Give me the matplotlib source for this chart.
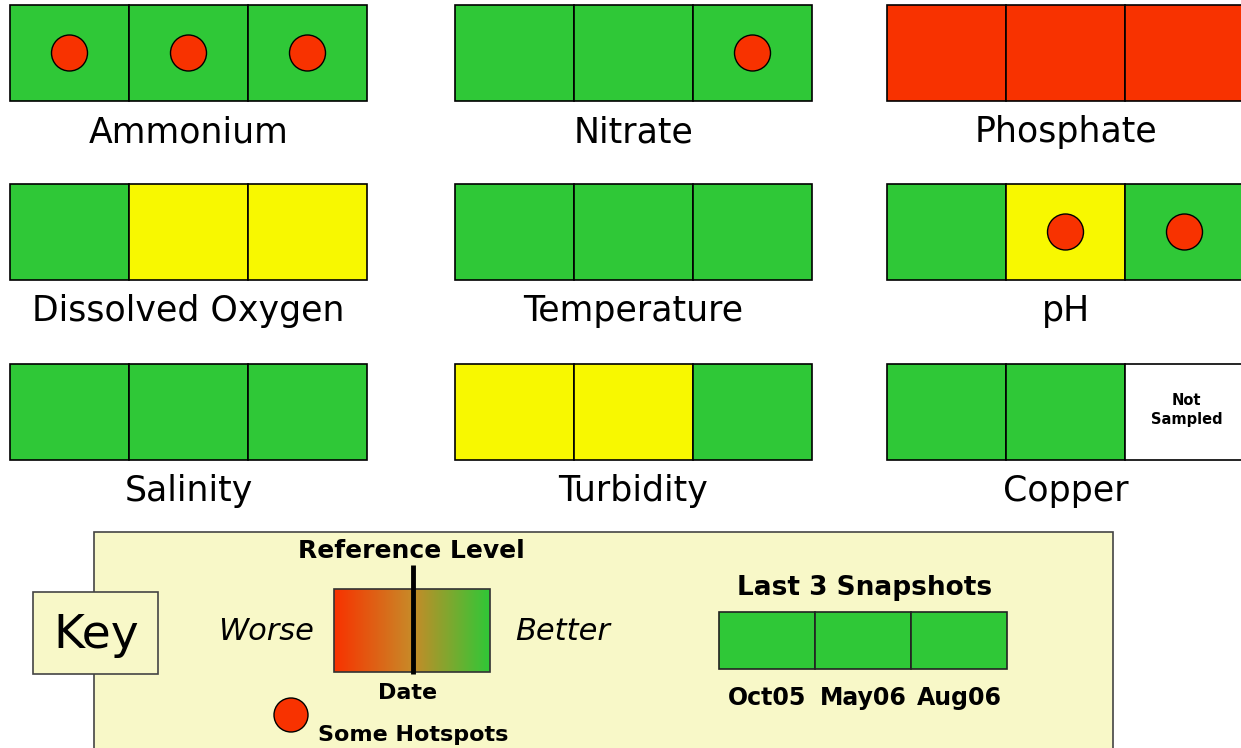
import matplotlib
matplotlib.use("Agg")
import matplotlib.pyplot as plt
from matplotlib.patches import Rectangle, Circle
from matplotlib.colors import LinearSegmentedColormap
import numpy as np

# ---------------- data ----------------
parameters = ["Ammonium", "Nitrate", "Phosphate",
              "Dissolved Oxygen", "Temperature", "pH",
              "Salinity", "Turbidity", "Copper"]
# status for the last 3 snapshots: G = better, Y = near reference, R = worse, N = not sampled
status = [
    ["G", "G", "G"],
    ["G", "G", "G"],
    ["R", "R", "R"],
    ["G", "Y", "Y"],
    ["G", "G", "G"],
    ["G", "Y", "G"],
    ["G", "G", "G"],
    ["Y", "Y", "G"],
    ["G", "G", "N"],
]
hotspots = [
    [1, 1, 1],
    [0, 0, 1],
    [0, 0, 0],
    [0, 0, 0],
    [0, 0, 0],
    [0, 1, 1],
    [0, 0, 0],
    [0, 0, 0],
    [0, 0, 0],
]
snapshot_labels = ["Oct05", "May06", "Aug06"]
key_status = ["G", "G", "G"]

# ---------------- styles ----------------
GREEN = "#2FC837"
YELLOW = "#F8F800"
RED = "#F83200"
KEYBG = "#F8F8C8"
fill = {"G": GREEN, "Y": YELLOW, "R": RED, "N": "white"}
FONT = "DejaVu Sans"

fig = plt.figure(figsize=(12.41, 7.48), dpi=100)
ax = fig.add_axes([0, 0, 1, 1])
W, H = 1241, 748

# panel layout (pixels)
col_x = [10, 455, 887]
row_y = [5, 184, 364]
cell_w, cell_h = 119, 96
label_dy = 127

for i, name in enumerate(parameters):
    r, c = divmod(i, 3)
    x0, y0 = col_x[c], row_y[r]
    for j, s in enumerate(status[i]):
        cx = x0 + j * cell_w
        ax.add_patch(Rectangle((cx, y0), cell_w, cell_h, facecolor=fill[s],
                               edgecolor="black", linewidth=1.2, zorder=2))
        if s == "N":
            ax.text(cx + cell_w / 2 + 2, y0 + cell_h / 2 - 2, "Not\nSampled",
                    ha="center", va="center", fontsize=10.5, fontweight="bold",
                    family=FONT, linespacing=1.4, zorder=3)
        if hotspots[i][j]:
            ax.add_patch(Circle((cx + cell_w / 2, y0 + cell_h / 2), 18,
                                facecolor=RED, edgecolor="black", linewidth=1.0, zorder=3))
    ax.text(x0 + 1.5 * cell_w, y0 + label_dy, name, ha="center", va="center",
            fontsize=25, family=FONT, zorder=3)

# ---------------- key ----------------
ax.add_patch(Rectangle((94, 532), 1019, 230, facecolor=KEYBG, edgecolor="#444444",
                       linewidth=1.2, zorder=1))
ax.add_patch(Rectangle((33, 592), 125, 82, facecolor=KEYBG, edgecolor="#444444",
                       linewidth=1.2, zorder=2))
ax.text(96, 635, "Key", ha="center", va="center", fontsize=34, family=FONT, zorder=3)

cmap = LinearSegmentedColormap.from_list(
    "grad", [(0.0, RED), (0.5, "#C88A28"), (1.0, GREEN)])
grad = np.linspace(0, 1, 256).reshape(1, -1)
ax.imshow(grad, cmap=cmap, extent=(334, 490, 672, 589), aspect="auto", zorder=2)
ax.add_patch(Rectangle((334, 589), 156, 83, facecolor="none", edgecolor="#333333",
                       linewidth=1.2, zorder=3))
ax.plot([413, 413], [565, 674], color="black", linewidth=3.5, zorder=4,
        solid_capstyle="butt")
ax.text(411, 551, "Reference Level", ha="center", va="center", fontsize=18,
        fontweight="bold", family=FONT, zorder=3)
ax.text(266, 632, "Worse", ha="center", va="center", fontsize=22, style="italic",
        family=FONT, zorder=3)
ax.text(563, 632, "Better", ha="center", va="center", fontsize=22, style="italic",
        family=FONT, zorder=3)
ax.text(408, 693, "Date", ha="center", va="center", fontsize=16, fontweight="bold",
        family=FONT, zorder=3)
ax.add_patch(Circle((291, 715), 17, facecolor=RED, edgecolor="black", linewidth=1.0,
                    zorder=3))
ax.text(413, 735, "Some Hotspots", ha="center", va="center", fontsize=16,
        fontweight="bold", family=FONT, zorder=3)

ax.text(865, 588, "Last 3 Snapshots", ha="center", va="center", fontsize=19,
        fontweight="bold", family=FONT, zorder=3)
kx0, ky0, kw, kh = 719, 612, 96, 57
for j, (s, lab) in enumerate(zip(key_status, snapshot_labels)):
    ax.add_patch(Rectangle((kx0 + j * kw, ky0), kw, kh, facecolor=fill[s],
                           edgecolor="#222222", linewidth=1.2, zorder=3))
    ax.text(kx0 + j * kw + kw / 2, 698, lab, ha="center", va="center", fontsize=17,
            fontweight="bold", family=FONT, zorder=3)

ax.set_xlim(0, W)
ax.set_ylim(H, 0)
ax.axis("off")
fig.savefig("out.png", dpi=100, facecolor="white")
